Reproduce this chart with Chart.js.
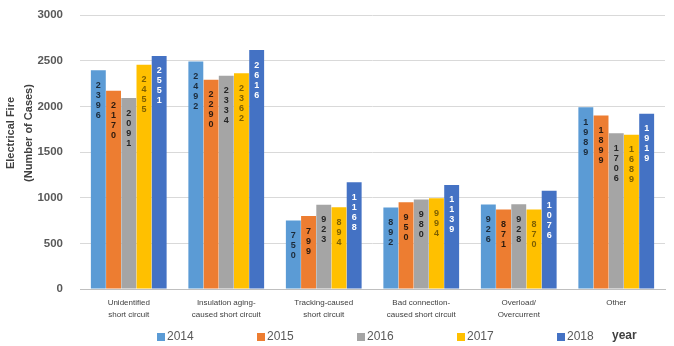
<!DOCTYPE html>
<html>
<head>
<meta charset="utf-8">
<script src="https://cdn.jsdelivr.net/npm/chart.js@4.4.0/dist/chart.umd.min.js"></script>
<style>
  body { margin: 0; background: #fff; }
</style>
</head>
<body>
<canvas id="fires" width="674" height="346"></canvas>
<script>
var categories = [
  ['Unidentified', 'short circuit'],
  ['Insulation aging-', 'caused short circuit'],
  ['Tracking-caused', 'short circuit'],
  ['Bad connection-', 'caused short circuit'],
  ['Overload/', 'Overcurrent'],
  'Other'
];
var years = ['2014', '2015', '2016', '2017', '2018'];
var cases2014 = [2396, 2492, 750, 892, 926, 1989];
var cases2015 = [2170, 2290, 799, 950, 871, 1899];
var cases2016 = [2091, 2334, 923, 980, 928, 1706];
var cases2017 = [2455, 2362, 894, 994, 870, 1689];
var cases2018 = [2551, 2616, 1168, 1139, 1076, 1919];
var yTicks = [0, 500, 1000, 1500, 2000, 2500, 3000];

var barColors = ['#5b9bd5', '#ed7d31', '#a5a5a5', '#ffc000', '#4472c4'];
var digitColors = ['#1c2b3a', '#2b1a0e', '#262626', '#7f6000', '#ffffff'];
var FONT = '"Liberation Sans", Arial, sans-serif';

// vertical stacked digits inside each bar
var digitLabels = {
  id: 'digitLabels',
  afterDatasetsDraw: function(chart) {
    var ctx = chart.ctx;
    ctx.save();
    ctx.font = 'bold 9px ' + FONT;
    ctx.textAlign = 'center';
    ctx.textBaseline = 'middle';
    chart.data.datasets.forEach(function(ds, i) {
      var meta = chart.getDatasetMeta(i);
      ctx.fillStyle = digitColors[i];
      meta.data.forEach(function(bar, j) {
        var s = String(ds.data[j]);
        for (var k = 0; k < s.length; k++) {
          ctx.fillText(s[k], bar.x, bar.y + 15 + k * 10);
        }
      });
    });
    ctx.restore();
  }
};

// y title (sits a bit above centre) and the legend row, drawn by hand
var extras = {
  id: 'extras',
  afterDraw: function(chart) {
    var ctx = chart.ctx;
    ctx.save();
    ctx.fillStyle = '#404040';
    ctx.font = 'bold 11px ' + FONT;
    ctx.textAlign = 'center';
    ctx.textBaseline = 'middle';
    ctx.translate(11, 133);
    ctx.rotate(-Math.PI / 2);
    ctx.fillText('Electrical Fire', 0, 0);
    ctx.fillText('(Number of Cases)', 0, 18);
    ctx.restore();

    var y = 337;
    ctx.save();
    ctx.textBaseline = 'middle';
    chart.data.datasets.forEach(function(ds, i) {
      var x = 157 + i * 100;
      ctx.fillStyle = ds.backgroundColor;
      ctx.fillRect(x, y - 4, 8, 8);
      ctx.fillStyle = '#595959';
      ctx.font = '12px ' + FONT;
      ctx.fillText(ds.label, x + 10, y);
    });
    ctx.font = 'bold 12px ' + FONT;
    ctx.fillStyle = '#404040';
    ctx.fillText('year', 612, y - 1);
    ctx.restore();
  }
};

var ctx = document.getElementById('fires').getContext('2d');
var fireChart = new Chart(ctx, {
  type: 'bar',
  data: {
    labels: categories,
    datasets: [
      { label: years[0], data: cases2014, backgroundColor: barColors[0] },
      { label: years[1], data: cases2015, backgroundColor: barColors[1] },
      { label: years[2], data: cases2016, backgroundColor: barColors[2] },
      { label: years[3], data: cases2017, backgroundColor: barColors[3] },
      { label: years[4], data: cases2018, backgroundColor: barColors[4] }
    ]
  },
  options: {
    responsive: false,
    animation: false,
    datasets: { bar: { categoryPercentage: 0.78, barPercentage: 0.98 } },
    layout: { padding: { left: 0, right: 9, top: 15, bottom: 25 } },
    scales: {
      x: {
        grid: { display: false },
        border: { color: '#bfbfbf' },
        ticks: {
          color: '#404040',
          font: { size: 8, family: FONT, lineHeight: 1.5 },
          maxRotation: 0,
          autoSkip: false,
          padding: 0
        }
      },
      y: {
        min: 0,
        max: 3000,
        afterBuildTicks: function(axis) {
          axis.ticks = yTicks.map(function(v) { return { value: v }; });
        },
        afterFit: function(axis) { axis.width = 80; },
        grid: { color: '#d9d9d9', tickColor: 'rgba(0,0,0,0)', tickLength: 17 },
        border: { display: false },
        ticks: {
          color: '#595959',
          padding: 0,
          callback: function(v) { return String(v); },
          font: { size: 11.5, weight: 'bold', family: FONT }
        }
      }
    },
    plugins: {
      legend: { display: false },
      tooltip: { enabled: false }
    }
  },
  plugins: [digitLabels, extras]
});
</script>
</body>
</html>
